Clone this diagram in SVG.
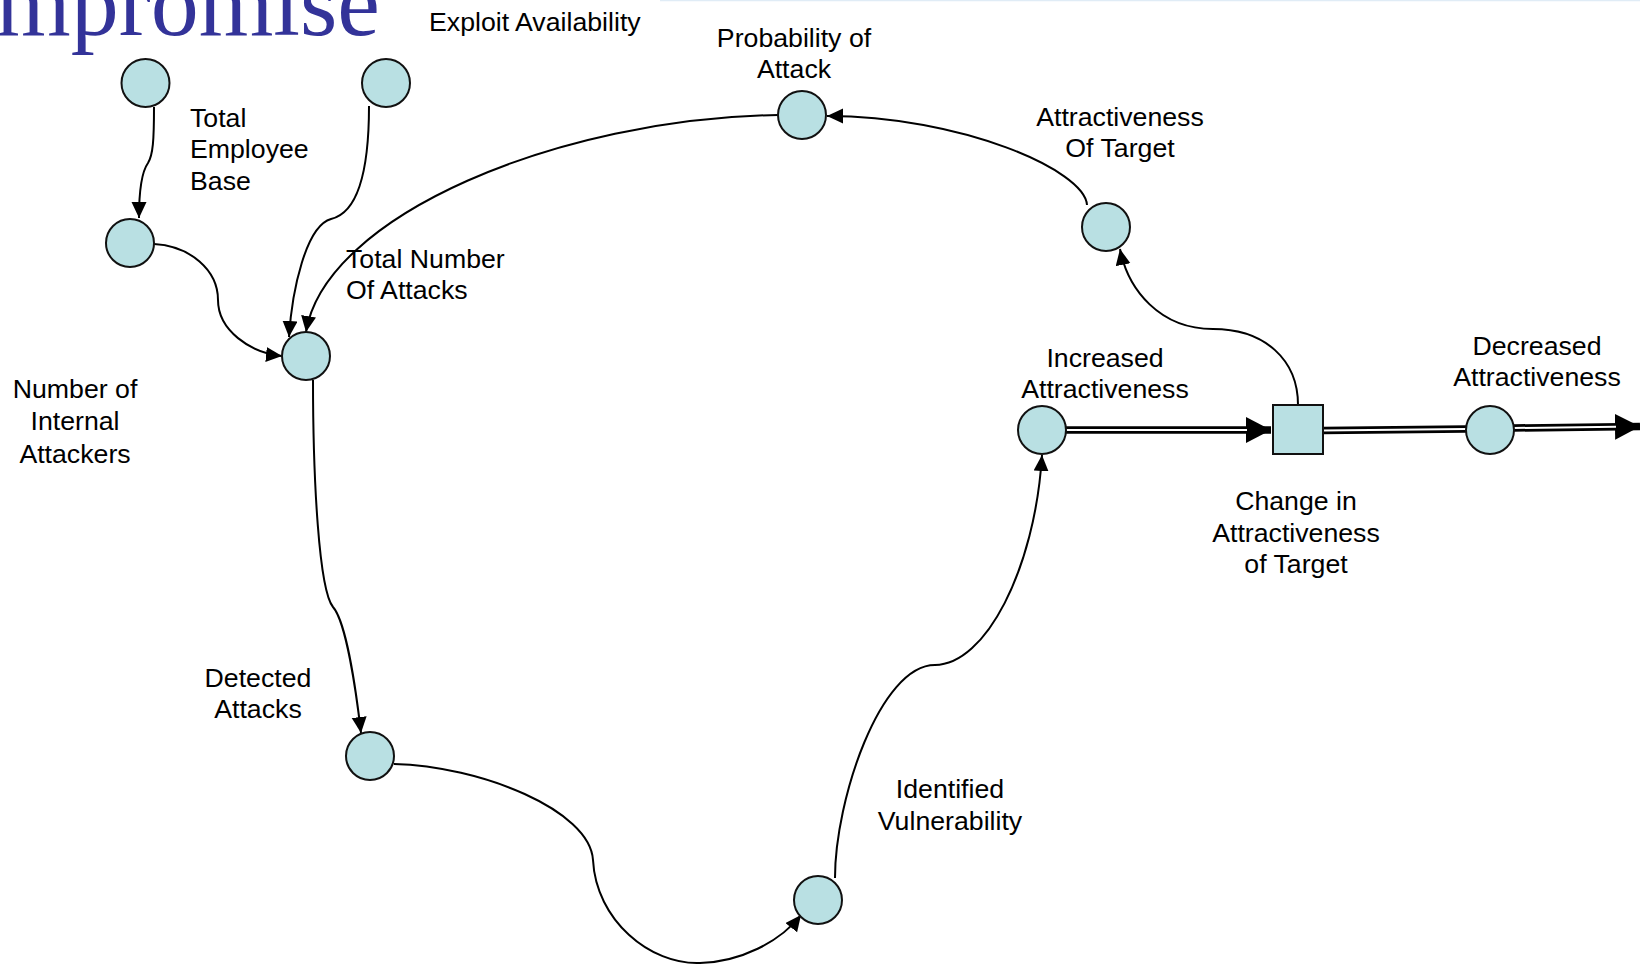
<svg xmlns="http://www.w3.org/2000/svg" width="1640" height="965" viewBox="0 0 1640 965">
  <style>
    .lbl { font-family: "Liberation Sans", Arial, sans-serif; font-size: 26.7px; fill: #000; }
    .mid { text-anchor: middle; }
    .var { fill: #B9E0E3; stroke: #111; stroke-width: 2; }
    .link { fill: none; stroke: #000; stroke-width: 2; marker-end: url(#arr); }
    .pipe { fill: none; stroke: #000; stroke-width: 7.5; }
    .pipe-in { fill: none; stroke: #fff; stroke-width: 2; }
    .title { font-family: "Liberation Serif", "Times New Roman", serif; font-size: 96px; fill: #333399; }
  </style>
  <defs>
    <marker id="arr" markerUnits="userSpaceOnUse" markerWidth="17" markerHeight="16" refX="16" refY="7.5" orient="auto">
      <path d="M0,0 L16,7.5 L0,15 z" fill="#000"/>
    </marker>
    <marker id="flow" markerUnits="userSpaceOnUse" markerWidth="27" markerHeight="27" refX="25" refY="13" orient="auto">
      <path d="M0,0 L25,13 L0,26 z" fill="#000"/>
    </marker>
  </defs>

  <rect width="1640" height="965" fill="#fff"/>

  <!-- slide header remnants -->
  <line x1="660" y1="0.6" x2="1640" y2="0.6" stroke="#e0ecf6" stroke-width="1.2"/>
  <text class="title" x="-4" y="35">mpromise</text>

  <!-- connectors -->
  <g id="connectors">
    <path class="link" d="M154,107 C154,140 153,155 148,163 C143,170 139,185 139,218"/>
    <path class="link" d="M369,106 C369,160 361,212 331,219 C306,226 292,290 289,337"/>
    <path class="link" d="M154,244 C190,246 218,270 218,300 C218,330 250,353 282,356"/>
    <path class="link" d="M778,115 C560,118 325,215 306,332"/>
    <path class="link" d="M1087,205 C1085,170 960,116 827,116"/>
    <path class="link" d="M1298,405 C1298,360 1265,329 1213,329 C1160,329 1128,290 1120,249"/>
    <path class="link" d="M313,380 C313,480 319,590 333,607 C346,622 356,690 361,733"/>
    <path class="link" d="M394,764 C480,766 590,810 593,860 C596,920 650,965 700,963 C740,962 780,942 801,915"/>
    <path class="link" d="M835,878 C835,800 880,665 935,665 C985,665 1035,570 1042,455"/>

    <!-- flow pipes -->
    <path class="pipe" d="M1066,430 L1271,430" marker-end="url(#flow)"/>
    <path class="pipe-in" d="M1066,430 L1247,430"/>
    <path class="pipe" d="M1323,430.5 L1466,429"/>
    <path class="pipe-in" d="M1323,430.5 L1466,429"/>
    <path class="pipe" d="M1514,428 L1640,426.5" marker-end="url(#flow)"/>
    <path class="pipe-in" d="M1514,428 L1616,426.8"/>
  </g>

  <!-- nodes -->
  <g id="employee-base">
    <circle class="var" cx="145.5" cy="83" r="24"/>
    <text class="lbl" x="190" y="127">Total</text>
    <text class="lbl" x="190" y="158">Employee</text>
    <text class="lbl" x="190" y="190">Base</text>
  </g>
  <g id="exploit-availability">
    <circle class="var" cx="386" cy="83" r="24"/>
    <text class="lbl" x="429" y="31">Exploit Availability</text>
  </g>
  <g id="internal-attackers">
    <circle class="var" cx="130" cy="243" r="24"/>
    <text class="lbl mid" x="75" y="398">Number of</text>
    <text class="lbl mid" x="75" y="430">Internal</text>
    <text class="lbl mid" x="75" y="463">Attackers</text>
  </g>
  <g id="total-attacks">
    <circle class="var" cx="306" cy="356" r="24"/>
    <text class="lbl" x="346" y="268">Total Number</text>
    <text class="lbl" x="346" y="299">Of Attacks</text>
  </g>
  <g id="probability-of-attack">
    <circle class="var" cx="802" cy="115" r="24"/>
    <text class="lbl mid" x="794" y="47">Probability of</text>
    <text class="lbl mid" x="794" y="78">Attack</text>
  </g>
  <g id="attractiveness-of-target">
    <circle class="var" cx="1106" cy="227" r="24"/>
    <text class="lbl mid" x="1120" y="126">Attractiveness</text>
    <text class="lbl mid" x="1120" y="157">Of Target</text>
  </g>
  <g id="increased-attractiveness">
    <circle class="var" cx="1042" cy="430" r="24"/>
    <text class="lbl mid" x="1105" y="367">Increased</text>
    <text class="lbl mid" x="1105" y="398">Attractiveness</text>
  </g>
  <g id="change-in-attractiveness">
    <rect class="var" x="1273" y="405" width="50" height="49"/>
    <text class="lbl mid" x="1296" y="510">Change in</text>
    <text class="lbl mid" x="1296" y="542">Attractiveness</text>
    <text class="lbl mid" x="1296" y="573">of Target</text>
  </g>
  <g id="decreased-attractiveness">
    <circle class="var" cx="1490" cy="430" r="24"/>
    <text class="lbl mid" x="1537" y="355">Decreased</text>
    <text class="lbl mid" x="1537" y="386">Attractiveness</text>
  </g>
  <g id="detected-attacks">
    <circle class="var" cx="370" cy="756" r="24"/>
    <text class="lbl mid" x="258" y="687">Detected</text>
    <text class="lbl mid" x="258" y="718">Attacks</text>
  </g>
  <g id="identified-vulnerability">
    <circle class="var" cx="818" cy="900" r="24"/>
    <text class="lbl mid" x="950" y="798">Identified</text>
    <text class="lbl mid" x="950" y="830">Vulnerability</text>
  </g>
</svg>
